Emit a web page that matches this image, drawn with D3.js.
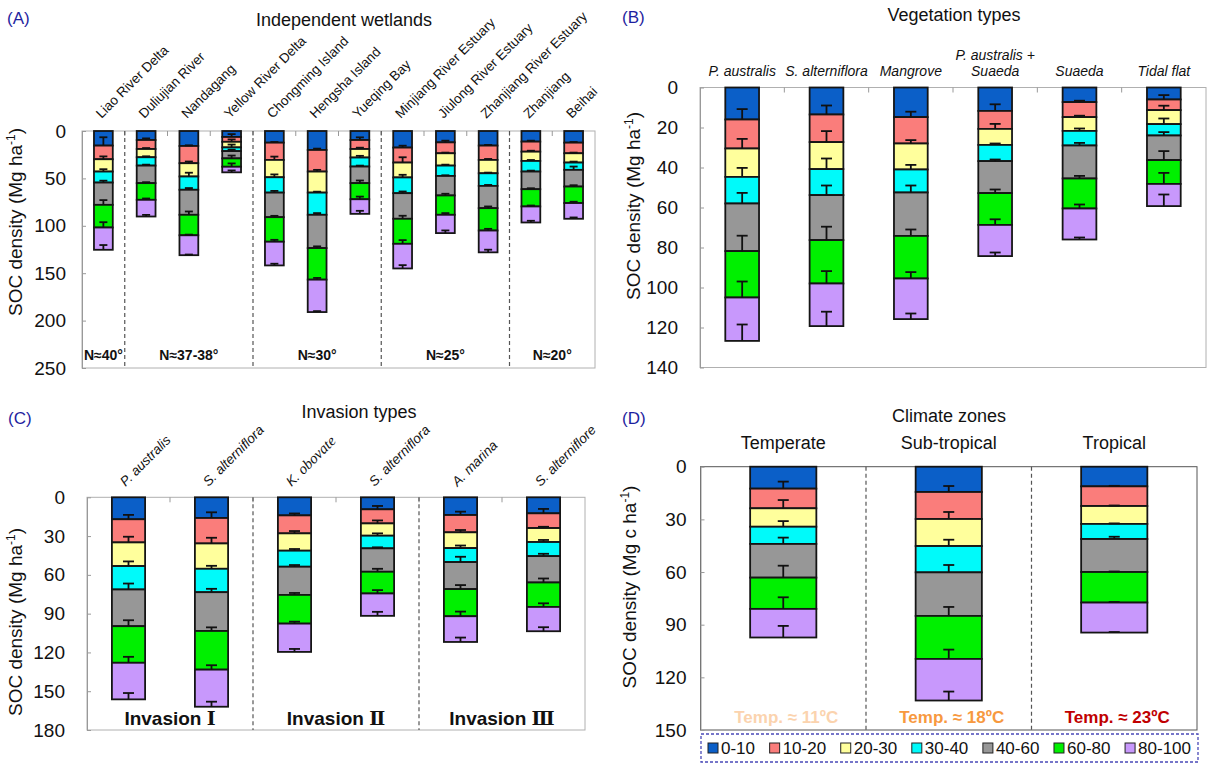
<!DOCTYPE html>
<html>
<head>
<meta charset="utf-8" />
<script src="https://d3js.org/d3.v7.min.js"></script>
<style>
  * { margin: 0; padding: 0; }
  body { background: #fff; }
  svg { display: block; font-family: Arial, "Liberation Sans", sans-serif; }
</style>
</head>
<body>
<svg width="1208" height="764"></svg>
<script>
// depth layers (cm) shared by all four panels
const layers = ["0-10", "10-20", "20-30", "30-40", "40-60", "60-80", "80-100"];
const layerColors = ["#0b5fc8", "#fa7d7b", "#ffff9c", "#00fafa", "#979797", "#00f000", "#c898fc"];

// (A) independent wetlands, SOC per layer and error
const wetlandSites = ["Liao River Delta", "Duliujian River", "Nandagang", "Yellow River Delta",
  "Chongming Island", "Hengsha Island", "Yueqing Bay", "Minjiang River Estuary",
  "Jiulong River Estuary", "Zhanjiang River Estuary", "Zhanjiang", "Beihai"];
const wetlandSOC = [
  [15.4, 14.4, 13.0, 11.6, 23.5, 23.9, 23.5],
  [9.5, 9.5, 8.7, 8.8, 18.5, 17.6, 17.6],
  [15.8, 18.2, 14.0, 14.0, 26.4, 21.6, 21.0],
  [6.3, 5.1, 5.9, 3.9, 7.7, 8.8, 5.9],
  [12.3, 18.2, 18.3, 16.2, 25.9, 25.9, 25.0],
  [20.0, 22.8, 22.2, 23.4, 35.1, 33.3, 34.2],
  [9.5, 9.5, 9.0, 9.5, 17.5, 17.0, 15.4],
  [17.5, 15.8, 15.7, 16.6, 27.0, 26.4, 26.0],
  [12.0, 11.5, 13.0, 10.9, 20.6, 20.4, 19.3],
  [15.4, 15.1, 14.1, 13.3, 23.5, 23.6, 23.0],
  [11.2, 10.6, 9.8, 11.2, 18.6, 18.2, 16.9],
  [12.3, 11.2, 9.8, 7.7, 17.6, 17.4, 16.6]
];
const wetlandSE = [
  [8.8, 3.0, 2.5, 2.0, 5.0, 5.6, 5.0],
  [1.7, 1.0, 1.0, 1.0, 1.0, 1.4, 1.7],
  [0.7, 1.8, 4.0, 1.8, 3.5, 0.7, 0.7],
  [3.0, 2.5, 3.0, 1.5, 3.0, 3.5, 2.0],
  [0.7, 3.5, 3.0, 1.8, 1.4, 2.0, 1.8],
  [1.4, 1.8, 1.0, 1.8, 1.8, 1.8, 1.0],
  [2.8, 1.4, 1.8, 1.0, 2.8, 2.8, 3.2],
  [2.0, 5.6, 2.8, 1.8, 3.2, 3.9, 3.5],
  [1.8, 0.7, 1.0, 0.7, 1.8, 1.8, 2.8],
  [0.7, 1.0, 0.7, 1.0, 1.8, 1.8, 2.8],
  [1.0, 1.0, 1.0, 1.0, 1.0, 1.0, 1.8],
  [0.7, 0.7, 1.0, 3.5, 1.4, 1.4, 1.4]
];
const latitudeLabels = ["N≈40°", "N≈37-38°", "N≈30°", "N≈25°", "N≈20°"];
const latitudeGroupSize = [1, 3, 3, 3, 2];
const wetlandTicks = [0, 50, 100, 150, 200, 250];

// (B) vegetation types
const vegTypes = ["P. australis", "S. alterniflora", "Mangrove", "P. australis +\nSuaeda", "Suaeda", "Tidal flat"];
const vegSOC = [
  [16.0, 14.5, 14.2, 13.3, 23.8, 23.2, 21.7],
  [13.5, 13.8, 13.5, 13.0, 22.5, 21.7, 21.3],
  [14.8, 13.2, 13.0, 11.5, 21.7, 21.3, 20.3],
  [11.7, 9.0, 8.0, 8.1, 16.0, 15.9, 15.6],
  [7.3, 7.5, 6.9, 7.3, 16.5, 15.0, 15.5],
  [6.0, 5.3, 7.0, 5.7, 12.3, 11.9, 11.1]
];
const vegSE = [
  [5.2, 4.8, 4.5, 5.3, 7.7, 8.0, 8.2],
  [4.5, 5.5, 5.3, 4.8, 6.7, 6.2, 7.2],
  [2.7, 1.7, 2.3, 3.5, 3.2, 3.2, 2.8],
  [3.3, 2.5, 0.7, 0.8, 1.8, 2.8, 1.8],
  [0.7, 0.7, 1.2, 1.3, 1.3, 2.0, 1.0],
  [2.2, 2.2, 2.8, 1.7, 4.5, 5.5, 5.8]
];
const vegTicks = [0, 20, 40, 60, 80, 100, 120, 140];

// (C) invasion types
const invasionTypes = ["P. australis", "S. alterniflora", "K. obovate", "S. alterniflora ", "A. marina", "S. alterniflore"];
const invasionSOC = [
  [17.0, 17.9, 18.3, 18.1, 28.4, 28.3, 28.3],
  [16.0, 19.7, 19.6, 18.1, 30.0, 29.9, 28.7],
  [14.0, 13.9, 13.4, 12.4, 21.8, 22.2, 21.9],
  [9.3, 10.9, 9.5, 9.8, 18.1, 16.8, 17.3],
  [13.7, 13.4, 12.2, 10.8, 20.9, 21.0, 19.9],
  [12.4, 11.4, 10.8, 10.9, 20.4, 18.9, 18.8]
];
const invasionSE = [
  [3.4, 4.4, 3.6, 4.6, 4.6, 4.6, 4.9],
  [4.4, 4.4, 2.3, 2.6, 2.8, 3.4, 3.9],
  [1.5, 1.8, 1.3, 1.3, 1.5, 1.5, 2.3],
  [2.6, 2.3, 1.8, 0.8, 2.3, 2.6, 3.1],
  [2.6, 1.8, 2.0, 4.1, 3.1, 3.6, 3.4],
  [3.4, 1.0, 1.6, 1.8, 3.1, 2.8, 3.1]
];
const invasionGroups = ["Ⅰ", "Ⅱ", "Ⅲ"];
const invasionTicks = [0, 30, 60, 90, 120, 150, 180];

// (D) climate zones
const climateZones = ["Temperate", "Sub-tropical", "Tropical"];
const climateSOC = [
  [12.5, 11.2, 10.5, 9.8, 19.2, 17.8, 16.3],
  [14.4, 15.4, 15.4, 15.0, 24.8, 24.5, 23.7],
  [11.2, 11.2, 10.2, 8.6, 18.8, 17.4, 17.1]
];
const climateSE = [
  [4.0, 4.7, 3.2, 3.6, 6.8, 6.6, 6.6],
  [3.4, 4.0, 3.6, 4.2, 5.1, 5.3, 5.1],
  [0.3, 0.3, 0.3, 1.3, 0.3, 0.3, 0.3]
];
const climateTemps = ["Temp. ≈ 11ºC", "Temp. ≈ 18ºC", "Temp. ≈ 23ºC"];
const tempColors = ["#fbd3ae", "#f7993f", "#c00000"];
const climateTicks = [0, 30, 60, 90, 120, 150];

const svg = d3.select("svg");
const panelBlue = "#1f1f9f";

// stacked depth bars with error bars; returns scales so labels can be placed
function stackedPanel(o) {
  const g = svg.append("g");
  const x = d3.scaleBand().domain(o.cats).range([o.x0, o.x1])
    .paddingInner(o.pad).paddingOuter(o.pad / 2);
  const y = d3.scaleLinear().domain([0, o.ymax]).range([o.y0, o.y1]);

  g.append("rect")
    .attr("x", o.x0).attr("y", o.y0)
    .attr("width", o.x1 - o.x0).attr("height", o.y1 - o.y0)
    .attr("fill", "none").attr("stroke", o.frame || "#b0b0b0").attr("stroke-width", 1);

  const ax = g.append("g")
    .attr("transform", `translate(${o.x0},0)`)
    .call(d3.axisLeft(y).tickValues(o.ticks).tickSizeInner(-4).tickSizeOuter(0).tickPadding(o.tickPad));
  ax.select(".domain").attr("stroke", "#999");
  ax.selectAll(".tick line").attr("stroke", "#999");
  ax.selectAll(".tick text").attr("font-size", 19).attr("fill", "#111").attr("font-family", "Arial, 'Liberation Sans', sans-serif");

  // little category ticks on the top edge
  if (o.topTicks) {
    const step = x.step();
    g.selectAll(".ttick").data(d3.range(1, o.cats.length)).join("line")
      .attr("x1", i => o.x0 + i * step).attr("x2", i => o.x0 + i * step)
      .attr("y1", o.y0).attr("y2", o.y0 + 5)
      .attr("stroke", "#999");
  }

  // dashed separators between groups
  const step = x.step();
  g.selectAll(".sep").data(o.seps || []).join("line")
    .attr("x1", i => o.x0 + i * step).attr("x2", i => o.x0 + i * step)
    .attr("y1", o.y0).attr("y2", o.y1)
    .attr("stroke", "#555").attr("stroke-dasharray", "4,3").attr("stroke-width", 1.2);

  const table = o.cats.map((c, i) => {
    const row = { cat: c };
    layers.forEach((l, k) => { row[l] = o.soc[i][k]; });
    return row;
  });
  const series = d3.stack().keys(layers)(table);

  const bw = x.bandwidth();
  series.forEach((s, k) => {
    g.selectAll(null).data(s).join("rect")
      .attr("x", d => x(d.data.cat))
      .attr("y", d => y(d[0]))
      .attr("width", bw)
      .attr("height", d => y(d[1]) - y(d[0]))
      .attr("fill", layerColors[k])
      .attr("stroke", "#151515").attr("stroke-width", 1.8);
  });
  // error bars: from layer bottom back toward the surface
  series.forEach((s, k) => {
    s.forEach((d, i) => {
      const e = o.se[i][k];
      const cx = x(d.data.cat) + bw / 2;
      const yb = y(d[1]), yt = y(d[1] - e);
      g.append("line").attr("x1", cx).attr("x2", cx).attr("y1", yb).attr("y2", yt)
        .attr("stroke", "#111").attr("stroke-width", 1.8);
      g.append("line").attr("x1", cx - o.cap / 2).attr("x2", cx + o.cap / 2).attr("y1", yt).attr("y2", yt)
        .attr("stroke", "#111").attr("stroke-width", 1.8);
    });
  });
  return { g, x, y, step };
}

function yTitle(cx, cy, unit) {
  const t = svg.append("text")
    .attr("transform", `translate(${cx},${cy}) rotate(-90)`)
    .attr("text-anchor", "middle").attr("font-size", 19).attr("fill", "#111");
  t.append("tspan").text(`SOC density (${unit}`);
  t.append("tspan").attr("dy", -7).attr("font-size", 12).text("-1");
  t.append("tspan").attr("dy", 7).text(")");
}

function heading(letter, lx, ly, title, tx, ty) {
  svg.append("text").attr("x", lx).attr("y", ly).attr("font-size", 17).attr("fill", panelBlue).text(letter);
  svg.append("text").attr("x", tx).attr("y", ty).attr("text-anchor", "middle").attr("font-size", 18).attr("fill", "#111").text(title);
}

// ---------- (A)
const A = stackedPanel({ cats: wetlandSites, soc: wetlandSOC, se: wetlandSE, x0: 82, x1: 595, y0: 131, y1: 368,
  ymax: 250, ticks: wetlandTicks, pad: 0.56, cap: 8, tickPad: 16, topTicks: true,
  seps: d3.cumsum(latitudeGroupSize).slice(0, -1) });
heading("(A)", 7, 24, "Independent wetlands", 344, 26);
yTitle(22, 222, "Mg ha");
A.g.selectAll(".xl").data(wetlandSites).join("text")
  .attr("transform", d => `translate(${A.x(d) + A.x.bandwidth() / 2 - 2},119) rotate(-45)`)
  .attr("font-size", 13.5).attr("fill", "#111").text(d => d);
{
  const ends = d3.cumsum(latitudeGroupSize);
  A.g.selectAll(".lat").data(latitudeLabels).join("text")
    .attr("x", (d, i) => 82 + ((ends[i] - latitudeGroupSize[i]) + latitudeGroupSize[i] / 2) * A.step)
    .attr("y", 360).attr("text-anchor", "middle").attr("font-size", 14).attr("font-weight", "bold")
    .attr("fill", "#111").text(d => d);
}

// ---------- (B)
const B = stackedPanel({ cats: vegTypes, soc: vegSOC, se: vegSE, x0: 700, x1: 1206, y0: 87.5, y1: 367.5,
  ymax: 140, ticks: vegTicks, pad: 0.6, cap: 11, tickPad: 22, topTicks: true });
heading("(B)", 622, 23, "Vegetation types", 954, 21);
yTitle(640, 206, "Mg ha");
vegTypes.forEach(v => {
  const lines = v.split("\n");
  lines.forEach((ln, j) => {
    svg.append("text").attr("x", B.x(v) + B.x.bandwidth() / 2)
      .attr("y", 76 - (lines.length - 1 - j) * 16)
      .attr("text-anchor", "middle").attr("font-size", 14).attr("font-style", "italic")
      .attr("fill", "#111").text(ln);
  });
});

// ---------- (C)
const C = stackedPanel({ cats: invasionTypes, soc: invasionSOC, se: invasionSE, x0: 87, x1: 585, y0: 497.3, y1: 730,
  ymax: 180, ticks: invasionTicks, pad: 0.6, cap: 11, tickPad: 22, topTicks: true, seps: [2, 4] });
heading("(C)", 8, 424, "Invasion types", 359, 418);
yTitle(22, 622, "Mg ha");
invasionTypes.forEach(v => {
  const t = svg.append("text")
    .attr("transform", `translate(${C.x(v) + C.x.bandwidth() / 2 - 3},487) rotate(-45)`)
    .attr("font-size", 13.5).attr("font-style", "italic").attr("fill", "#111");
  if (v.startsWith("K. ")) {
    t.append("tspan").text("K. ");
    t.append("tspan").attr("font-family", "'Liberation Serif', serif").attr("font-size", 15).text(v.slice(3));
  } else {
    t.text(v.trim());
  }
});
invasionGroups.forEach((r, i) => {
  const t = svg.append("text").attr("x", 87 + (i * 2 + 1) * C.step).attr("y", 725)
    .attr("text-anchor", "middle").attr("font-size", 19).attr("font-weight", "bold").attr("fill", "#111");
  t.append("tspan").text("Invasion ");
  t.append("tspan").attr("font-family", "'DejaVu Serif', 'Liberation Serif', serif").text(r);
});

// ---------- (D)
const D = stackedPanel({ cats: climateZones, soc: climateSOC, se: climateSE, x0: 700.5, x1: 1197, y0: 466.7, y1: 730,
  ymax: 150, ticks: climateTicks, pad: 0.6, cap: 11, tickPad: 14, topTicks: false, seps: [1, 2], frame: "#555" });
heading("(D)", 622, 424, "Climate zones", 949, 422);
yTitle(636, 587, "Mg c ha");
climateZones.forEach((z, i) => {
  const cx = D.x(z) + D.x.bandwidth() / 2;
  svg.append("text").attr("x", cx).attr("y", 449).attr("text-anchor", "middle")
    .attr("font-size", 18).attr("fill", "#111").text(z);
  svg.append("text").attr("x", cx + 3).attr("y", 723).attr("text-anchor", "middle")
    .attr("font-size", 17).attr("font-weight", "bold").attr("fill", tempColors[i]).text(climateTemps[i]);
});

// ---------- legend
{
  const lx0 = 701, lx1 = 1198, ly0 = 734, ly1 = 762;
  svg.append("rect").attr("x", lx0).attr("y", ly0).attr("width", lx1 - lx0).attr("height", ly1 - ly0)
    .attr("fill", "none").attr("stroke", "#4a4ab8").attr("stroke-width", 1.3).attr("stroke-dasharray", "3,2");
  const lg = svg.append("g");
  const items = layers.map((l, k) => {
    const it = lg.append("g");
    it.append("rect").attr("x", 0).attr("y", -5).attr("width", 10).attr("height", 10)
      .attr("fill", layerColors[k]).attr("stroke", "#222").attr("stroke-width", 1);
    const tx = it.append("text").attr("x", 13).attr("y", 6).attr("font-size", 17).attr("fill", "#111").text(l);
    return { it, w: 13 + tx.node().getComputedTextLength() };
  });
  const total = d3.sum(items, d => d.w);
  const gap = (lx1 - lx0 - 14 - total) / (items.length - 1);
  let cx = lx0 + 7;
  items.forEach(d => { d.it.attr("transform", `translate(${cx},${(ly0 + ly1) / 2})`); cx += d.w + gap; });
}
</script>
</body>
</html>
